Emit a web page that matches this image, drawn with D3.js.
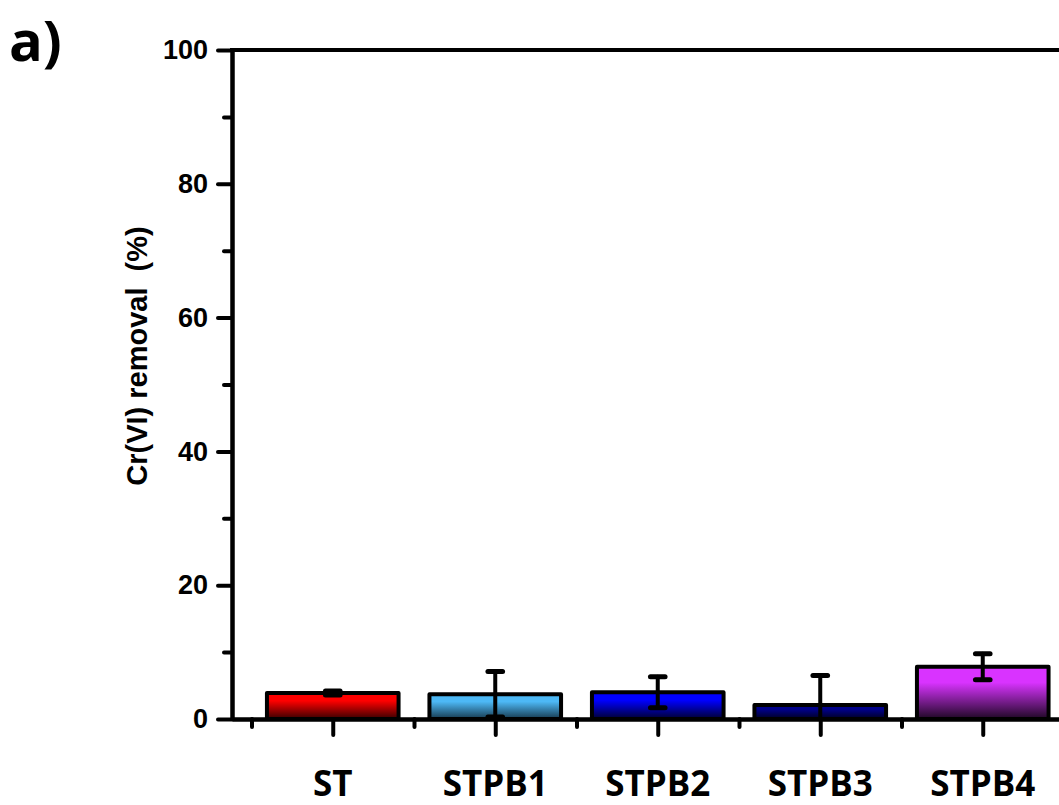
<!DOCTYPE html>
<html>
<head>
<meta charset="utf-8">
<script src="https://cdn.jsdelivr.net/npm/d3@7"></script>
<style>
  body { margin: 0; background: #ffffff; }
  svg { display: block; }
</style>
</head>
<body>
<svg id="chart"></svg>
<script>
// data
var categories = ["ST", "STPB1", "STPB2", "STPB3", "STPB4"];
var removal = [3.9, 3.7, 4.0, 2.1, 7.8];
var removalErr = [0.3, 3.4, 2.3, 4.4, 1.95];
var yTicks = [0, 20, 40, 60, 80, 100];
var yMinorTicks = [10, 30, 50, 70, 90];
var topColors = ["#ff0000", "#4db8f5", "#0000ff", "#00008a", "#d933ff"];
var bottomColors = ["#380000", "#16384d", "#000030", "#000020", "#1e0824"];

var screen = { width: 1059, height: 805 };
var plot = { left: 232, top: 50, bottom: 719, right: 1077 };

var svg = d3.select("#chart")
  .attr("width", screen.width)
  .attr("height", screen.height);

var dataset = categories.map(function(c, i) {
  return { name: c, pos: i + 1, value: removal[i], err: removalErr[i] };
});

var xScale = d3.scaleLinear()
  .domain([0.38, 5.58])
  .range([plot.left, plot.right]);

var yScale = d3.scaleLinear()
  .domain([0, 100])
  .range([plot.bottom, plot.top]);

// gradients, bright at top, dark at bottom
var defs = svg.append("defs");
dataset.forEach(function(d, i) {
  var g = defs.append("linearGradient")
    .attr("id", "grad" + i)
    .attr("x1", 0).attr("y1", 0).attr("x2", 0).attr("y2", 1);
  g.append("stop").attr("offset", "0%").attr("stop-color", topColors[i]);
  g.append("stop").attr("offset", "30%").attr("stop-color", topColors[i]);
  g.append("stop").attr("offset", "100%").attr("stop-color", bottomColors[i]);
});

// bars
var halfW = 0.405;
svg.append("g").selectAll("rect")
  .data(dataset)
  .enter()
  .append("rect")
  .attr("x", function(d) { return xScale(d.pos - halfW); })
  .attr("width", function(d) { return xScale(d.pos + halfW) - xScale(d.pos - halfW); })
  .attr("y", function(d) { return yScale(d.value); })
  .attr("height", function(d) { return yScale(0) - yScale(d.value); })
  .attr("fill", function(d, i) { return "url(#grad" + i + ")"; })
  .attr("stroke", "#000")
  .attr("stroke-width", 4)
  .attr("stroke-linejoin", "round");

// error bars (clipped at 0 like the original)
var errG = svg.append("g")
  .attr("stroke", "#000")
  .attr("stroke-linecap", "round");

var capHalf = 0.045;
dataset.forEach(function(d) {
  var hi = d.value + d.err;
  var lo = Math.max(0, d.value - d.err);
  errG.append("line")
    .attr("x1", xScale(d.pos)).attr("x2", xScale(d.pos))
    .attr("y1", yScale(hi)).attr("y2", yScale(lo))
    .attr("stroke-width", 4);
  errG.append("line")
    .attr("x1", xScale(d.pos - capHalf)).attr("x2", xScale(d.pos + capHalf))
    .attr("y1", yScale(hi)).attr("y2", yScale(hi))
    .attr("stroke-width", 5);
  if (d.value - d.err > 0) {
    errG.append("line")
      .attr("x1", xScale(d.pos - capHalf)).attr("x2", xScale(d.pos + capHalf))
      .attr("y1", yScale(lo)).attr("y2", yScale(lo))
      .attr("stroke-width", 5);
  }
});

// axes
var yAxis = d3.axisLeft(yScale)
  .tickValues(yTicks)
  .tickSize(14)
  .tickSizeOuter(0)
  .tickPadding(10);

var yMinor = d3.axisLeft(yScale)
  .tickValues(yMinorTicks)
  .tickSize(8)
  .tickSizeOuter(0)
  .tickFormat("");

var xAxis = d3.axisBottom(xScale)
  .tickValues(d3.range(1, categories.length + 1))
  .tickSize(16)
  .tickSizeOuter(0)
  .tickFormat("");

var xMinor = d3.axisBottom(xScale)
  .tickValues([0.5, 1.5, 2.5, 3.5, 4.5, 5.5])
  .tickSize(8)
  .tickSizeOuter(0)
  .tickFormat("");

function styleAxis(g) {
  g.select(".domain").attr("stroke-width", 4);
  g.selectAll(".tick line").attr("stroke-width", 4).attr("stroke-linecap", "round");
  g.selectAll("text")
    .attr("fill", "#000")
    .style("font-family", "'Liberation Sans', Arial, sans-serif")
    .style("font-weight", "bold")
    .style("font-size", "27px");
}

svg.append("g")
  .attr("transform", "translate(0," + plot.bottom + ")")
  .call(xMinor).call(styleAxis);
svg.append("g")
  .attr("transform", "translate(0," + plot.bottom + ")")
  .call(xAxis).call(styleAxis);
svg.append("g")
  .attr("transform", "translate(" + plot.left + ",0)")
  .call(yMinor).call(styleAxis);
svg.append("g")
  .attr("transform", "translate(" + plot.left + ",0)")
  .call(yAxis).call(styleAxis);

// top frame line
svg.append("line")
  .attr("x1", plot.left - 2).attr("x2", plot.right)
  .attr("y1", plot.top).attr("y2", plot.top)
  .attr("stroke", "#000")
  .attr("stroke-width", 4);

// category labels
svg.append("g").selectAll("text")
  .data(dataset)
  .enter()
  .append("text")
  .text(function(d) { return d.name; })
  .attr("x", function(d) { return xScale(d.pos); })
  .attr("y", 796)
  .attr("text-anchor", "middle")
  .style("font-family", "'Open Sans', sans-serif")
  .style("font-weight", "bold")
  .style("font-size", "35px");

// y title
svg.append("text")
  .text("Cr(VI) removal\u00a0 (%)")
  .attr("transform", "translate(147,356) rotate(-90)")
  .attr("text-anchor", "middle")
  .style("font-family", "'Liberation Sans', Arial, sans-serif")
  .style("font-weight", "bold")
  .style("font-size", "29px");

// panel letter
svg.append("text")
  .text("a)")
  .attr("x", 9)
  .attr("y", 61)
  .style("font-family", "'Open Sans', sans-serif")
  .style("font-weight", "bold")
  .style("font-size", "56px");
</script>
</body>
</html>
